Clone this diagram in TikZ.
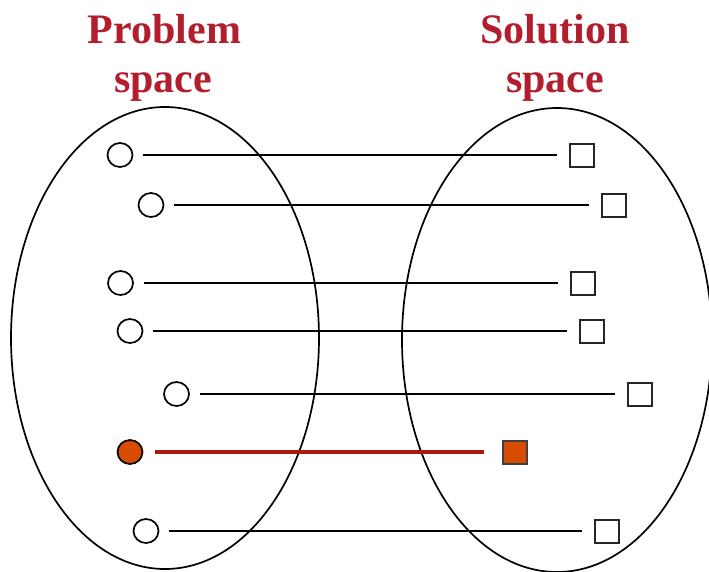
\documentclass[tikz,border=0pt]{standalone}
\usepackage{fontspec}
\setmainfont{Liberation Serif}
\usetikzlibrary{shapes.geometric}
\definecolor{titlered}{RGB}{178,30,45}
\definecolor{linkred}{RGB}{168,26,12}
\definecolor{fillorange}{RGB}{214,76,0}
\tikzset{
  space/.style={draw=black, line width=1.7pt},
  probnode/.style={ellipse, draw=black, line width=1.7pt, fill=white, minimum width=25pt, minimum height=24pt, inner sep=0pt},
  solnode/.style={rectangle, draw=black!85, line width=2pt, fill=white, minimum width=24pt, minimum height=23pt, inner sep=0pt},
  link/.style={draw=black, line width=1.8pt, shorten <=10pt, shorten >=12pt},
  hotprob/.style={probnode, fill=fillorange},
  hotsol/.style={solnode, fill=fillorange, draw=black!75},
  hotlink/.style={draw=linkred, line width=3.5pt, shorten <=12pt, shorten >=18pt},
  title/.style={text=titlered, font=\fontsize{42}{49}\selectfont\bfseries, align=center, anchor=base, inner sep=0pt}
}
\begin{document}
\begin{tikzpicture}[x=1pt,y=-1pt]
\useasboundingbox (0,0) rectangle (709,571);
\fill[white] (0,0) rectangle (709,571);
% spaces
\draw[space] (165,338) ellipse [x radius=154, y radius=231];
\draw[space] (557,340) ellipse [x radius=155, y radius=232];
% titles
\node[title] (pt1) at (164.5,43) {Problem};
\node[title] (pt2) at (163,92) {space};
\node[title] (st1) at (555,43) {Solution};
\node[title] (st2) at (555,92) {space};
% problem nodes
\node[probnode] (p1) at (120,155) {};
\node[probnode] (p2) at (151,205) {};
\node[probnode] (p3) at (120.5,283) {};
\node[probnode] (p4) at (130,331) {};
\node[probnode] (p5) at (176.5,394) {};
\node[hotprob] (p6) at (130,452) {};
\node[probnode] (p7) at (146,531) {};
% solution nodes
\node[solnode] (s1) at (581.5,155) {};
\node[solnode] (s2) at (613.5,205) {};
\node[solnode] (s3) at (583,283) {};
\node[solnode] (s4) at (592,331) {};
\node[solnode] (s5) at (639.5,394) {};
\node[hotsol] (s6) at (514.5,452) {};
\node[solnode] (s7) at (607,531) {};
% links
\draw[link] (p1) -- (s1);
\draw[link] (p2) -- (s2);
\draw[link] (p3) -- (s3);
\draw[link] (p4) -- (s4);
\draw[link] (p5) -- (s5);
\draw[hotlink] (p6) -- (s6);
\draw[link] (p7) -- (s7);
\end{tikzpicture}
\end{document}
